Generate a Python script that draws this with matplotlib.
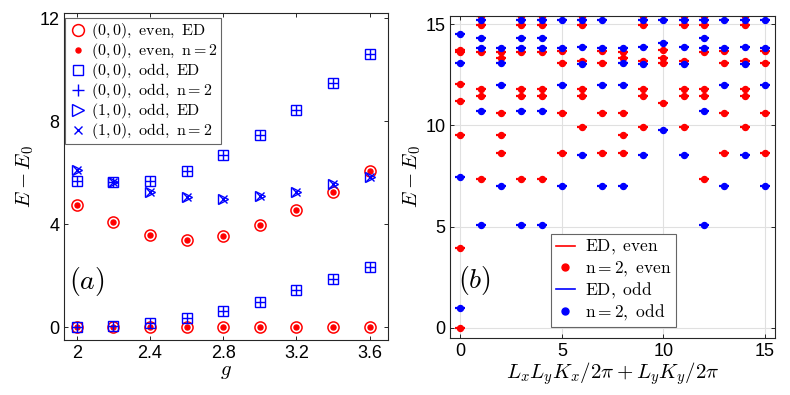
import matplotlib
matplotlib.use("Agg")
import matplotlib.pyplot as plt

plt.rcParams["font.family"] = ["Liberation Sans", "DejaVu Sans"]
plt.rcParams["mathtext.fontset"] = "cm"

# --------------------
# PANEL (a) DATA
# --------------------
g = [2.0, 2.2, 2.4, 2.6, 2.8, 3.0, 3.2, 3.4, 3.6]
even_ground = [0, 0, 0, 0, 0, 0, 0, 0, 0]
even_excited = [4.74, 4.07, 3.57, 3.39, 3.55, 3.97, 4.57, 5.27, 6.05]
odd_low = [0.0, 0.04, 0.16, 0.34, 0.62, 0.98, 1.44, 1.88, 2.34]
odd_high = [5.68, 5.62, 5.68, 6.06, 6.68, 7.47, 8.43, 9.49, 10.59]
mom10_odd = [6.10, 5.64, 5.26, 5.04, 4.98, 5.09, 5.27, 5.57, 5.84]

# --------------------
# PANEL (b) DATA (momentum classes)
# --------------------
k_0 = [0]
even_0 = [0.0, 3.95, 9.51, 11.18, 12.02, 13.6, 13.72]
odd_0 = [1.0, 7.45, 13.09, 14.5]

k_A = [1, 3, 4, 12]
even_A = [7.35, 11.45, 11.81, 13.6, 14.97, 15.4]
odd_A = [5.07, 10.72, 13.83, 14.33, 15.19]

k_B = [5, 7, 13, 15]
even_B = [8.62, 10.63, 13.06, 13.65]
odd_B = [7.02, 12.0, 13.83, 15.19]

k_C = [2, 8]
even_C = [8.62, 9.51, 10.63, 13.35, 13.6]
odd_C = [7.02, 12.0, 13.09, 13.8]

k_D = [6, 9, 11, 14]
even_D = [9.93, 11.45, 11.81, 13.19, 14.95, 15.4]
odd_D = [8.52, 13.04, 13.85, 15.19]

k_E = [10]
even_E = [11.1, 13.06, 13.31, 13.72]
odd_E = [9.77, 14.08, 15.19]

classes = [
    (k_0, even_0, odd_0),
    (k_A, even_A, odd_A),
    (k_B, even_B, odd_B),
    (k_C, even_C, odd_C),
    (k_D, even_D, odd_D),
    (k_E, even_E, odd_E),
]

RED = (1, 0, 0)
BLUE = (0, 0, 1)
SPINE = (0.15, 0.15, 0.15)

fig = plt.figure(figsize=(7.9, 3.95), dpi=100)
ax1 = fig.add_axes([0.081, 0.139, 0.410, 0.828])
ax2 = fig.add_axes([0.570, 0.144, 0.411, 0.816])

# --------------------
# PANEL (a)
# --------------------
for gg_set in [even_ground, even_excited]:
    ax1.plot(g, gg_set, "o", ms=8, mfc="none", mec=RED, mew=1.1, ls="none")
    ax1.plot(g, gg_set, "o", ms=3.6, color=RED, ls="none")
for odd_set in [odd_low, odd_high]:
    ax1.plot(g, odd_set, "s", ms=6.5, mfc="none", mec=BLUE, mew=1.0, ls="none")
    ax1.plot(g, odd_set, "+", ms=7.5, color=BLUE, mew=1.0, ls="none")
ax1.plot(g, mom10_odd, ">", ms=7.5, mfc="none", mec=BLUE, mew=1.0, ls="none")
ax1.plot(g, mom10_odd, "x", ms=5.5, color=BLUE, mew=1.0, ls="none")

# legend handles
h = [
    ax1.plot([], [], "o", ms=8.5, mfc="none", mec=RED, mew=1.1, ls="none")[0],
    ax1.plot([], [], "o", ms=3.6, color=RED, ls="none")[0],
    ax1.plot([], [], "s", ms=7, mfc="none", mec=BLUE, mew=1.0, ls="none")[0],
    ax1.plot([], [], "+", ms=8, color=BLUE, mew=1.0, ls="none")[0],
    ax1.plot([], [], ">", ms=8.5, mfc="none", mec=BLUE, mew=1.0, ls="none")[0],
    ax1.plot([], [], "x", ms=6, color=BLUE, mew=1.0, ls="none")[0],
]
labels_a = [
    r"$(0,0),\ \mathrm{even},\ \mathrm{ED}$",
    r"$(0,0),\ \mathrm{even},\ \mathrm{n}=2$",
    r"$(0,0),\ \mathrm{odd},\ \mathrm{ED}$",
    r"$(0,0),\ \mathrm{odd},\ \mathrm{n}=2$",
    r"$(1,0),\ \mathrm{odd},\ \mathrm{ED}$",
    r"$(1,0),\ \mathrm{odd},\ \mathrm{n}=2$",
]
leg1 = ax1.legend(h, labels_a, loc="upper left", bbox_to_anchor=(0.003, 0.985),
                  borderaxespad=0, fontsize=11.5, fancybox=False, handletextpad=0.2,
                  handlelength=1.2, labelspacing=0.0, borderpad=0.2,
                  framealpha=1)
leg1.get_frame().set_edgecolor((0.4, 0.4, 0.4))
leg1.get_frame().set_linewidth(0.8)

ax1.set_xlim(1.93, 3.7)
ax1.set_ylim(-0.5, 12.2)
ax1.set_xticks([2, 2.4, 2.8, 3.2, 3.6])
ax1.set_xticklabels(["2", "2.4", "2.8", "3.2", "3.6"])
ax1.set_yticks([0, 4, 8, 12])
ax1.set_xlabel(r"$g$", fontsize=15, labelpad=0)
ax1.set_ylabel(r"$E-E_0$", fontsize=15, labelpad=2)
ax1.text(0.015, 0.18, r"$(a)$", transform=ax1.transAxes, fontsize=20,
         ha="left", va="center")

# --------------------
# PANEL (b)
# --------------------
for ks, ev, od in classes:
    for k in ks:
        ax2.plot([k] * len(ev), ev, "_", ms=7, mew=1.6, color=RED, ls="none")
        ax2.plot([k] * len(ev), ev, "o", ms=4.3, color=RED, ls="none")
for ks, ev, od in classes:
    for k in ks:
        ax2.plot([k] * len(od), od, "_", ms=7, mew=1.6, color=BLUE, ls="none")
        ax2.plot([k] * len(od), od, "o", ms=4.3, color=BLUE, ls="none")

h2 = [
    ax2.plot([], [], "-", color=RED, lw=1.2)[0],
    ax2.plot([], [], "o", ms=5, color=RED, ls="none")[0],
    ax2.plot([], [], "-", color=BLUE, lw=1.2)[0],
    ax2.plot([], [], "o", ms=5, color=BLUE, ls="none")[0],
]
labels_b = [
    r"$\mathrm{ED},\ \mathrm{even}$",
    r"$\mathrm{n}=2,\ \mathrm{even}$",
    r"$\mathrm{ED},\ \mathrm{odd}$",
    r"$\mathrm{n}=2,\ \mathrm{odd}$",
]
leg2 = ax2.legend(h2, labels_b, loc="lower left", bbox_to_anchor=(0.311, 0.034),
                  borderaxespad=0, fontsize=12.5, fancybox=False, handletextpad=0.6,
                  handlelength=1.1, labelspacing=0.12, borderpad=0.25,
                  framealpha=1)
leg2.get_frame().set_edgecolor((0.4, 0.4, 0.4))
leg2.get_frame().set_linewidth(0.8)

ax2.set_xlim(-0.5, 15.5)
ax2.set_ylim(-0.5, 15.41)
ax2.set_xticks([0, 5, 10, 15])
ax2.set_yticks([0, 5, 10, 15])
ax2.grid(True, color=(0.88, 0.88, 0.88), lw=0.8)
ax2.set_axisbelow(True)
ax2.set_xlabel(r"$L_xL_yK_x/2\pi+L_yK_y/2\pi$", fontsize=15, labelpad=0)
ax2.set_ylabel(r"$E-E_0$", fontsize=15, labelpad=2)
ax2.text(0.025, 0.18, r"$(b)$", transform=ax2.transAxes, fontsize=20,
         ha="left", va="center")

for ax in (ax1, ax2):
    ax.tick_params(direction="in", top=True, right=True, labelsize=13,
                   length=3, width=0.7, color=SPINE)
    for sp in ax.spines.values():
        sp.set_color(SPINE)
        sp.set_linewidth(0.8)

fig.savefig("out.png", dpi=100)
